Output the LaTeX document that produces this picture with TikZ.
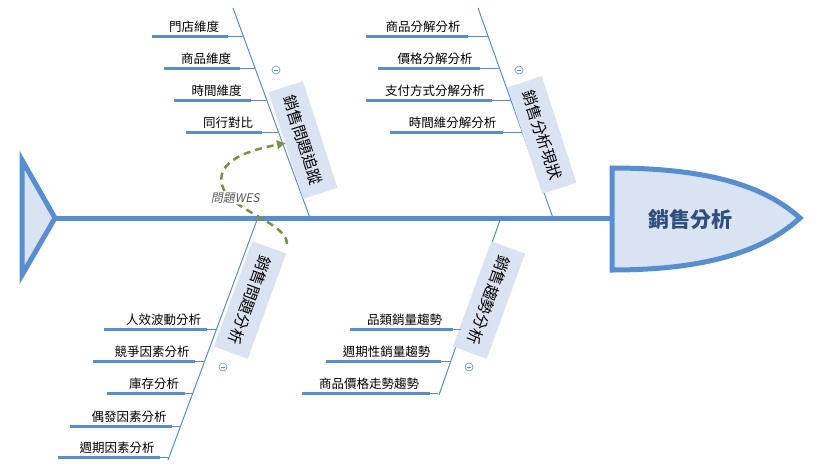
\documentclass[tikz,border=0pt]{standalone}
\usepackage{fontspec}
\setmainfont{Noto Sans CJK TC}
\usetikzlibrary{arrows.meta, positioning}
\definecolor{bone}{RGB}{85,142,213}
\definecolor{boxfill}{RGB}{218,227,241}
\definecolor{wesgreen}{RGB}{118,146,60}
\begin{document}
\begin{tikzpicture}[x=1pt, y=-1pt,
  spine/.style={draw=bone, line width=5pt},
  rib/.style={draw=bone, line width=1pt},
  twig/.style={draw=bone, line width=3pt},
  leaf/.style={font=\fontsize{12.5}{14}\selectfont, inner sep=1pt, anchor=south},
  cause/.style={fill=boxfill, font=\fontsize{15.5}{17}\selectfont, minimum width=112pt, minimum height=36pt, inner sep=2pt},
  fold/.style={circle, draw=bone, line width=0.6pt, minimum size=8pt, inner sep=0pt,
    path picture={\draw[bone, line width=0.6pt] ([xshift=-2pt]path picture bounding box.center) -- ([xshift=2pt]path picture bounding box.center);}}]

  \useasboundingbox (0,0) rectangle (822,469);

  % tail and spine
  \draw[spine, fill=boxfill, line join=miter] (22,160) -- (55,218) -- (22,275) -- cycle;
  \coordinate (tail) at (55,218);
  \draw[spine, fill=boxfill] (612,168) -- (612,270) .. controls (720,270) and (770,245) .. (800,218)
    .. controls (770,191) and (720,168) .. (612,168) -- cycle;
  \node[font=\fontsize{21}{23}\selectfont\bfseries, text={rgb,255:red,47;green,79;blue,127}] (effect) at (690,220) {銷售分析};
  \draw[spine] (tail) -- (612,218);

  % main bones
  \coordinate (tl0) at (310,218); \coordinate (tl1) at (233,8);
  \coordinate (tr0) at (553,218); \coordinate (tr1) at (478,8);
  \coordinate (bl0) at (257,220); \coordinate (bl1) at (168,460);
  \coordinate (br0) at (500,220); \coordinate (br1) at (439,395);
  \draw[rib] (tl0) -- (tl1);
  \draw[rib] (tr0) -- (tr1);
  \draw[rib] (bl0) -- (bl1);
  \draw[rib] (br0) -- (br1);

  % cause boxes
  \node[cause, rotate=-72] (track) at (303,140) {銷售問題追蹤};
  \node[cause, rotate=-72] (status) at (542,135) {銷售分析現狀};
  \node[cause, rotate=-110] (issue) at (250,300) {銷售問題分析};
  \node[cause, rotate=-110] (trend) at (489,300) {銷售趨勢分析};
  \node[fold] (f1) at (276,70) {};
  \node[fold] (f2) at (519,70) {};
  \node[fold] (f3) at (223,367) {};
  \node[fold] (f4) at (469,367) {};

  % top-left twigs
  \foreach \y/\xa/\xb/\t [count=\i] in {36/152/228/門店維度, 68/164/240/商品維度, 100/174/251/時間維度, 132/186/262/同行對比}{
    \node[leaf] (tla\i) at ({(\xa+\xb)/2+4},\y-2) {\t};
    \draw[twig] (\xa,\y) -- (\xb,\y);
    \draw[rib] (\xb,\y) -- ({233+0.367*(\y-8)},\y);
  }
  % top-right twigs
  \foreach \y/\xa/\xb/\t [count=\i] in {36/366/468/商品分解分析, 68/378/480/價格分解分析, 100/366/492/支付方式分解分析, 132/390/503/時間維分解分析}{
    \node[leaf] (tra\i) at ({(\xa+\xb)/2+6},\y-2) {\t};
    \draw[twig] (\xa,\y) -- (\xb,\y);
    \draw[rib] (\xb,\y) -- ({478+0.357*(\y-8)},\y);
  }
  % bottom-left twigs
  \foreach \y/\xa/\xb/\t [count=\i] in {329/104/207/人效波動分析, 361/93/195/競爭因素分析, 393/107/185/庫存分析, 426/70/172/偶發因素分析, 457/58/160/週期因素分析}{
    \node[leaf] (bla\i) at ({(\xa+\xb)/2+8},\y-2) {\t};
    \draw[twig] (\xa,\y) -- (\xb,\y);
    \draw[rib] (\xb,\y) -- ({257-0.37*(\y-220)},\y);
  }
  % bottom-right twigs
  \foreach \y/\xa/\xb/\t [count=\i] in {329/350/453/品類銷量趨勢, 361/326/441/週期性銷量趨勢, 393/302/430/商品價格走勢趨勢}{
    \node[leaf] (bra\i) at ({(\xa+\xb)/2+3},\y-2) {\t};
    \draw[twig] (\xa,\y) -- (\xb,\y);
    \draw[rib] (\xb,\y) -- ({500-0.356*(\y-220)},\y);
  }

  % WES link
  \coordinate (wesin) at (287,244);
  \coordinate (wesout) at (286,143);
  \draw[wesgreen, line width=2.5pt, dash pattern=on 7pt off 5pt, -{Latex[length=9pt,width=10pt]}]
    (wesin) .. controls (287,222) and (228,210) .. (222,185)
    .. controls (216,160) and (250,150) .. (wesout);
  \node[font=\fontsize{12}{14}\selectfont, text=black!65, fill=white, inner sep=1pt, xslant=0.2] (wes) at (236,198) {問題WES};
\end{tikzpicture}
\end{document}
